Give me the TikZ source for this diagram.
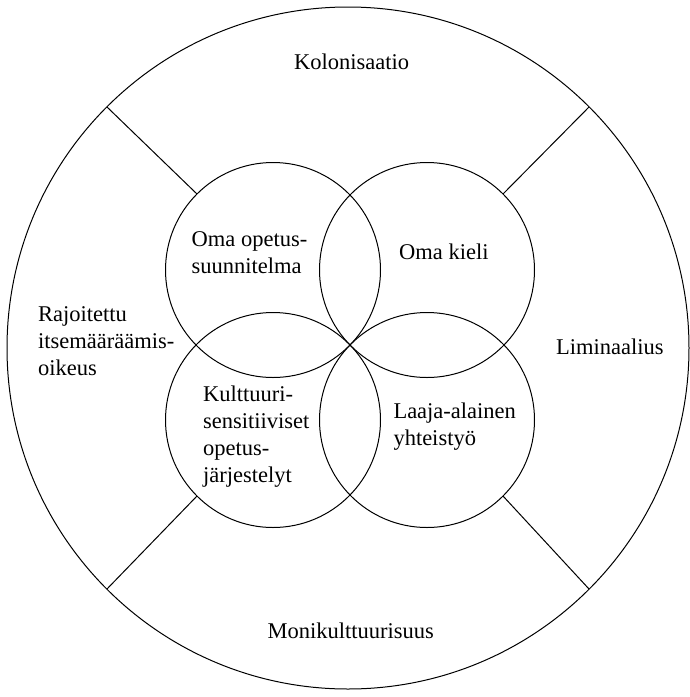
\documentclass[tikz,border=0pt]{standalone}
\usepackage{fontspec}
\setmainfont{Liberation Serif}
\begin{document}
\begin{tikzpicture}[x=1pt,y=-1pt,
  ring/.style={draw, circle, line width=1pt, inner sep=0pt, outer sep=0pt},
  lab/.style={font=\fontsize{22.5}{27}\selectfont, inner sep=0pt, align=left, anchor=base west},
  spoke/.style={line width=1pt}]
\useasboundingbox (0,0) rectangle (690,697);
\node[ring, minimum size=682pt] (big) at (348,348) {};
\node[ring, minimum size=215pt] (tl) at (273,270) {};
\node[ring, minimum size=215pt] (tr) at (427,270) {};
\node[ring, minimum size=215pt] (bl) at (273,420) {};
\node[ring, minimum size=215pt] (br) at (427,420) {};
\draw[spoke] (big.135) -- (tl.135);
\draw[spoke] (big.45) -- (tr.45);
\draw[spoke] (big.225) -- (bl.225);
\draw[spoke] (big.315) -- (br.315);
\node[lab] (kol) at (294,69.3) {Kolonisaatio};
\node[lab] (mon) at (267.5,638.3) {Monikulttuurisuus};
\node[lab] (lim) at (556,354.3) {Liminaalius};
\node[lab] (raj) at (38,375.8) {Rajoitettu\\itsemääräämis-\\oikeus};
\node[lab] (ops) at (191.5,273.2) {Oma opetus-\\suunnitelma};
\node[lab] (kie) at (399,259.3) {Oma kieli};
\node[lab] (kul) at (203,482.5) {Kulttuuri-\\sensitiiviset\\opetus-\\järjestelyt};
\node[lab] (laa) at (393.3,445) {Laaja-alainen\\yhteistyö};
\end{tikzpicture}
\end{document}
